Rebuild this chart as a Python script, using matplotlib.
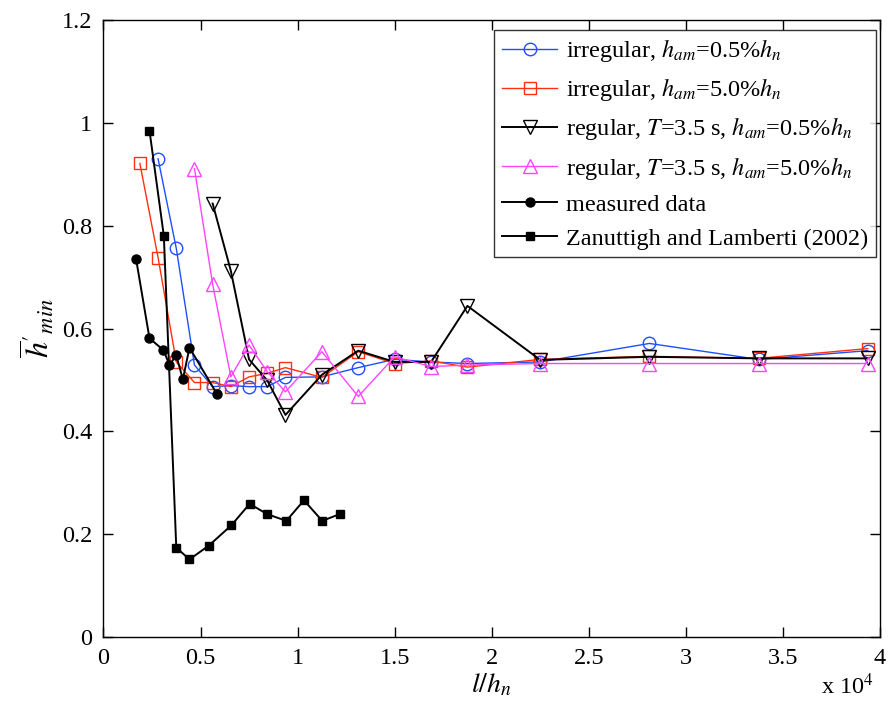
import matplotlib
matplotlib.use("Agg")
import matplotlib.pyplot as plt

plt.rcParams['font.family'] = ['Liberation Serif', 'DejaVu Serif']
plt.rcParams['mathtext.fontset'] = 'stix'

# l/h_n in units of 10^4
x_sim = [0.1875, 0.28125, 0.375, 0.46875, 0.5625, 0.65625, 0.75, 0.84375, 0.9375,
         1.125, 1.3125, 1.5, 1.6875, 1.875, 2.25, 2.8125, 3.375, 3.9375]

# irregular, h_am = 0.5% h_n  (starts at x_sim[1])
irr05 = [0.930, 0.756, 0.529, 0.487, 0.489, 0.487, 0.487, 0.505,
         0.506, 0.524, 0.540, 0.535, 0.532, 0.535, 0.571, 0.540, 0.557]
# irregular, h_am = 5.0% h_n  (starts at x_sim[0])
irr50 = [0.921, 0.738, 0.535, 0.495, 0.495, 0.487, 0.506, 0.513, 0.524,
         0.505, 0.555, 0.532, 0.537, 0.525, 0.540, 0.546, 0.542, 0.561]
# regular, T=3.5 s, h_am = 0.5% h_n  (starts at x_sim[4])
reg05 = [0.843, 0.712, 0.540, 0.499, 0.432,
         0.510, 0.557, 0.535, 0.535, 0.644, 0.539, 0.545, 0.542, 0.542]
# regular, T=3.5 s, h_am = 5.0% h_n  (starts at x_sim[3])
reg50 = [0.911, 0.686, 0.506, 0.568, 0.516, 0.477,
         0.555, 0.468, 0.545, 0.526, 0.529, 0.532, 0.532, 0.532, 0.532]

x_meas = [0.168, 0.237, 0.309, 0.340, 0.375, 0.409, 0.443, 0.584]
y_meas = [0.735, 0.581, 0.558, 0.529, 0.548, 0.501, 0.563, 0.473]

x_zl = [0.237, 0.311, 0.375, 0.443, 0.543, 0.658, 0.753, 0.844, 0.942, 1.033, 1.127, 1.216]
y_zl = [0.985, 0.780, 0.174, 0.151, 0.178, 0.217, 0.259, 0.239, 0.226, 0.266, 0.226, 0.239]

fig = plt.figure(figsize=(8.96, 7.15), dpi=100)
ax = fig.add_axes([0.1155, 0.109, 0.8665, 0.863])

blue = '#1f4fff'
red = '#ff3010'
pink = '#ff44ff'

ax.plot(x_sim[1:], irr05, '-o', color=blue, mfc='none', ms=9, lw=1.0, mew=1.0,
        label=r'irregular, $h_{am}$=0.5%$h_n$')
ax.plot(x_sim, irr50, '-s', color=red, mfc='none', ms=8.5, lw=1.0, mew=1.0,
        label=r'irregular, $h_{am}$=5.0%$h_n$')
ax.plot(x_sim[4:], reg05, '-v', color='black', mfc='none', ms=10, lw=1.4, mew=1.0,
        label=r'regular, $T$=3.5 s, $h_{am}$=0.5%$h_n$')
ax.plot(x_sim[3:], reg50, '-^', color=pink, mfc='none', ms=10, lw=1.0, mew=1.0,
        label=r'regular, $T$=3.5 s, $h_{am}$=5.0%$h_n$')
ax.plot(x_meas, y_meas, '-o', color='black', ms=6.5, lw=1.4,
        label='measured data')
ax.plot(x_zl, y_zl, '-s', color='black', ms=5.5, lw=1.4,
        label='Zanuttigh and Lamberti (2002)')

ax.set_xlim(0, 4)
ax.set_ylim(0, 1.2)
ax.set_xticks([0, 0.5, 1, 1.5, 2, 2.5, 3, 3.5, 4])
ax.set_xticklabels(['0', '0.5', '1', '1.5', '2', '2.5', '3', '3.5', '4'])
ax.set_yticks([0, 0.2, 0.4, 0.6, 0.8, 1, 1.2])
ax.set_yticklabels(['0', '0.2', '0.4', '0.6', '0.8', '1', '1.2'])
ax.tick_params(direction='in', length=7, width=1, top=True, right=True,
               labelsize=17.5, pad=8)
for sp in ax.spines.values():
    sp.set_linewidth(1.0)

ax.set_xlabel(r'$l/h_n$', fontsize=20, labelpad=2)
ax.set_ylabel(r"$\overline{h}'_{min}$", fontsize=23, labelpad=4)
fig.text(0.946, 0.022, r'x 10$^4$', fontsize=17.5, ha='center', va='bottom')

leg = ax.legend(loc='upper right', fontsize=17.5, frameon=True, fancybox=False,
                edgecolor='black', handlelength=2.3, labelspacing=0.5,
                borderaxespad=0.1, handletextpad=0.35, borderpad=0.3)
leg.get_frame().set_linewidth(1.0)
leg.set_bbox_to_anchor((0.9975, 0.988), transform=ax.transAxes)

fig.savefig('out.png', dpi=100)
